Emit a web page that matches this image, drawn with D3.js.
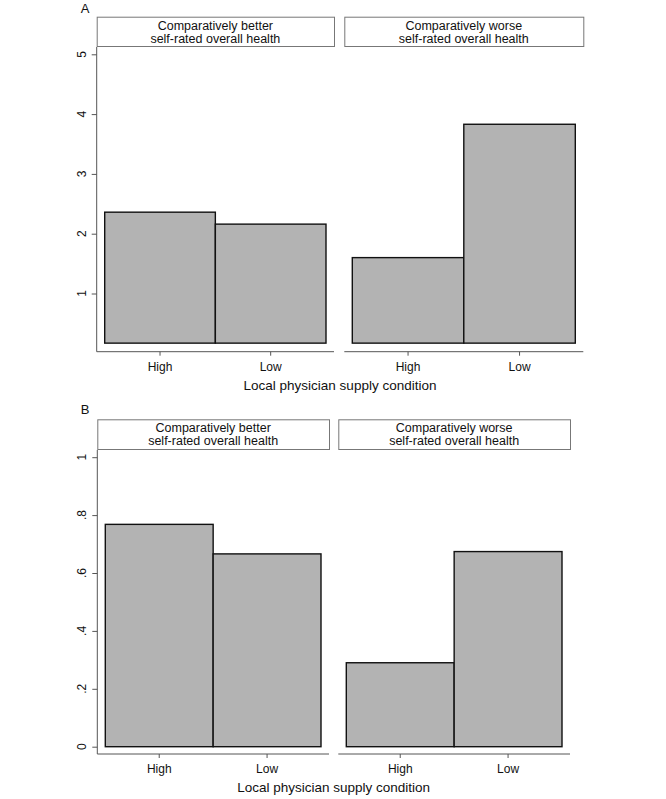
<!DOCTYPE html>
<html>
<head>
<meta charset="utf-8">
<script src="https://cdn.jsdelivr.net/npm/d3@7"></script>
<style>
  body { margin: 0; background: #fff; }
  svg text { font-family: Arial, "Liberation Sans", sans-serif; fill: #111; }
</style>
</head>
<body>
<div id="chart"></div>
<script>
// data
const categories = ["High", "Low"];
const facetLines = [
  ["Comparatively better", "self-rated overall health"],
  ["Comparatively worse", "self-rated overall health"]
];
const panelA_better = [2.36, 2.16];
const panelA_worse = [1.60, 3.83];
const panelA_base = 0.17;
const panelA_ticks = [1, 2, 3, 4, 5];
const panelB_better = [0.768, 0.666];
const panelB_worse = [0.29, 0.674];
const panelB_base = 0;
const panelB_ticks = [0, 0.2, 0.4, 0.6, 0.8, 1];
const axisTitle = "Local physician supply condition";

const svg = d3.select("#chart")
  .append("svg")
  .attr("width", 666)
  .attr("height", 799);

const fmtB = d => d === 0 ? "0" : d === 1 ? "1" : String(d).replace(/^0/, "");

const panels = [
  {
    label: "A", series: [panelA_better, panelA_worse], base: panelA_base,
    ticks: panelA_ticks, fmt: d => String(d),
    y: d3.scaleLinear().domain([0, 5]).range([353.3, 54.3]),
    subs: [[96.7, 334], [344.3, 583.3]],
    stripTop: 16.7, stripBottom: 46, axisY: 351.7,
    labelPos: [85, 13], tickLabelY: 371, titleY: 390
  },
  {
    label: "B", series: [panelB_better, panelB_worse], base: panelB_base,
    ticks: panelB_ticks, fmt: fmtB,
    y: d3.scaleLinear().domain([0, 1]).range([746.7, 457.2]),
    subs: [[97.3, 329], [338.3, 570]],
    stripTop: 419.3, stripBottom: 449, axisY: 754,
    labelPos: [85, 413.5], tickLabelY: 772.5, titleY: 791.5
  }
];

panels.forEach(p => {
  const g = svg.append("g");

  g.append("text")
    .attr("x", p.labelPos[0])
    .attr("y", p.labelPos[1])
    .attr("text-anchor", "middle")
    .style("font-size", "13px")
    .text(p.label);

  p.subs.forEach((ext, i) => {
    const [x0, x1] = ext;
    const x = d3.scaleBand()
      .domain(categories)
      .range([x0 + 8, x1 - 8])
      .padding(0);

    // strip header
    g.append("rect")
      .attr("x", x0 + 0.5)
      .attr("y", p.stripTop + 0.5)
      .attr("width", x1 - x0)
      .attr("height", p.stripBottom - p.stripTop)
      .attr("fill", "#fff")
      .attr("stroke", "#777")
      .attr("stroke-width", 1);
    facetLines[i].forEach((line, k) => {
      g.append("text")
        .attr("x", (x0 + x1) / 2)
        .attr("y", p.stripTop + 13 + k * 13)
        .attr("text-anchor", "middle")
        .style("font-size", "12.5px")
        .text(line);
    });

    // bars
    g.selectAll(null)
      .data(categories.map((c, k) => ({ cat: c, value: p.series[i][k] })))
      .join("rect")
      .attr("x", d => x(d.cat))
      .attr("y", d => p.y(d.value))
      .attr("width", x.bandwidth())
      .attr("height", d => p.y(p.base) - p.y(d.value))
      .attr("fill", "#b3b3b3")
      .attr("stroke", "#111")
      .attr("stroke-width", 1.4);

    // x axis
    const xa = g.append("g")
      .attr("transform", `translate(0, ${p.axisY})`)
      .call(d3.axisBottom(x).tickSize(4).tickSizeOuter(0).tickPadding(3));
    xa.select(".domain").remove();
    xa.selectAll(".tick line").attr("stroke", "#555");
    xa.selectAll(".tick text").remove();
    g.append("line")
      .attr("x1", x0).attr("x2", x1)
      .attr("y1", p.axisY).attr("y2", p.axisY)
      .attr("stroke", "#555").attr("stroke-width", 1);
    g.selectAll(null)
      .data(categories)
      .join("text")
      .attr("x", d => x(d) + x.bandwidth() / 2)
      .attr("y", p.tickLabelY)
      .attr("text-anchor", "middle")
      .style("font-size", "12px")
      .text(d => d);

    // y axis only on the left facet
    if (i === 0) {
      const ya = g.append("g")
        .attr("transform", `translate(${x0}, 0)`)
        .call(d3.axisLeft(p.y).tickValues(p.ticks).tickSize(5).tickSizeOuter(0));
      ya.select(".domain").remove();
      ya.selectAll(".tick line").attr("stroke", "#555");
      ya.selectAll(".tick text").remove();
      g.append("line")
        .attr("x1", x0).attr("x2", x0)
        .attr("y1", p.stripBottom + 1).attr("y2", p.axisY)
        .attr("stroke", "#555").attr("stroke-width", 1);
      g.selectAll(null)
        .data(p.ticks)
        .join("text")
        .attr("transform", d => `translate(${x0 - 11}, ${p.y(d)}) rotate(-90)`)
        .attr("text-anchor", "middle")
        .style("font-size", "12px")
        .text(p.fmt);
    }
  });

  g.append("text")
    .attr("x", (p.subs[0][0] + p.subs[1][1]) / 2)
    .attr("y", p.titleY)
    .attr("text-anchor", "middle")
    .style("font-size", "13.5px")
    .text(axisTitle);
});
</script>
</body>
</html>
